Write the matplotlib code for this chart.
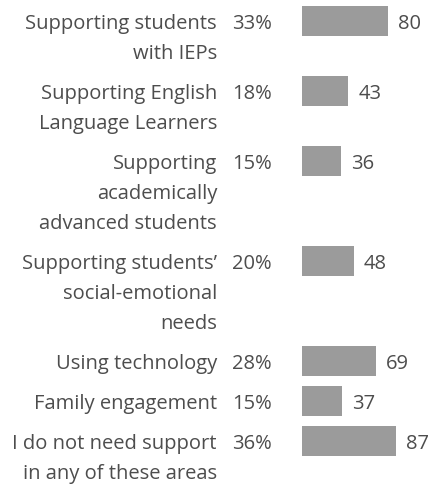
import matplotlib
matplotlib.use("Agg")
import matplotlib.pyplot as plt
from matplotlib.transforms import blended_transform_factory

categories = [
    "Supporting students\nwith IEPs",
    "Supporting English\nLanguage Learners",
    "Supporting\nacademically\nadvanced students",
    "Supporting students\u2019\nsocial-emotional\nneeds",
    "Using technology",
    "Family engagement",
    "I do not need support\nin any of these areas",
]
percents = ["33%", "18%", "15%", "20%", "28%", "15%", "36%"]
counts = [80, 43, 36, 48, 69, 37, 87]

W, H = 430, 484
TEXT = "#4d4d4d"
BAR = "#9b9b9b"
plt.rcParams["font.family"] = ["Open Sans", "DejaVu Sans"]
FS = 14.5

fig = plt.figure(figsize=(W / 100, H / 100), dpi=100)
# axes: x starts at bar origin (px 302), y in pixel rows (top-down)
x0 = 302
px_per_unit = 1.077
ax = fig.add_axes([x0 / W, 0, (W - x0) / W, 1])
ax.set_xlim(0, (W - x0) / px_per_unit)
ax.set_ylim(H, 0)
ax.axis("off")

line_h = 30
bar_h = 30
tops = []
y = 6
for c in categories:
    tops.append(y)
    y += line_h * len(c.split("\n")) + 10

centers = [t + bar_h / 2 for t in tops]
ax.barh(centers, counts, height=bar_h, color=BAR)

tr = blended_transform_factory(fig.transFigure, ax.transData)
for cat, pct, n, top in zip(categories, percents, counts, tops):
    base = top + 23
    for i, line in enumerate(cat.split("\n")):
        ax.text(217 / W, base + line_h * i, line, transform=tr, ha="right",
                va="baseline", fontsize=FS, color=TEXT, clip_on=False)
    ax.text(272 / W, base, pct, transform=tr, ha="right", va="baseline",
            fontsize=FS, color=TEXT, clip_on=False)
    ax.text(n + 10 / px_per_unit, base, str(n), ha="left", va="baseline",
            fontsize=FS, color=TEXT, clip_on=False)

fig.savefig("out.png", dpi=100)
